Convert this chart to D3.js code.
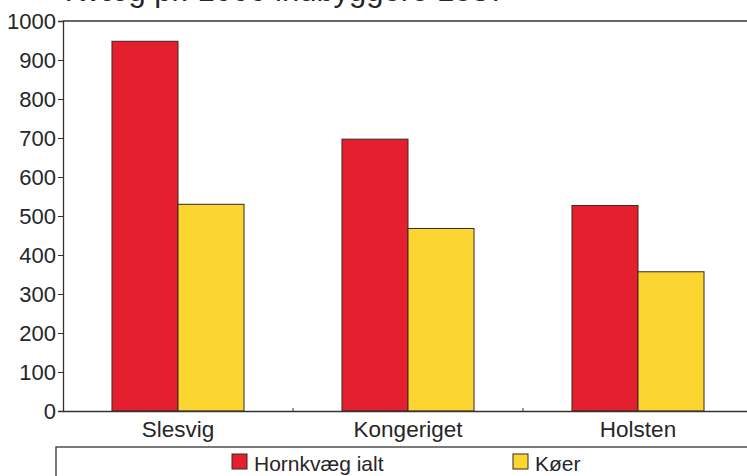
<!DOCTYPE html>
<html>
<head>
<meta charset="utf-8">
<script src="https://cdn.jsdelivr.net/npm/d3@7"></script>
<style>
  html, body { margin: 0; padding: 0; background: #fff; overflow: hidden; }
  svg { display: block; }
  text { font-family: "Liberation Sans", Arial, Helvetica, sans-serif; fill: #262626; }
</style>
</head>
<body>
<script>
const title = "Kvæg pr. 1000 indbyggere 1837";
const categories = ["Slesvig", "Kongeriget", "Holsten"];
const seriesNames = ["Hornkvæg ialt", "Køer"];
const hornkvaeg = [948, 697, 527];
const koer = [530, 468, 357];
const yTicks = [0, 100, 200, 300, 400, 500, 600, 700, 800, 900, 1000];
const colors = ["#e4202e", "#fcd630"];

(function () {
const W = 747, H = 476;
const svg = d3.select("body").append("svg").attr("width", W).attr("height", H);

const mLeft = 63, mRight = 753, mTop = 21, mBottom = 411;

const x = d3.scaleBand().domain(categories).range([mLeft, mRight])
  .paddingInner(0.426).paddingOuter(0.213);
const xs = d3.scaleBand().domain(seriesNames).range([0, x.bandwidth()]);
const y = d3.scaleLinear().domain([0, 1000]).range([mBottom, mTop]);

// Title (cut off at the top edge, as in the reference)
svg.append("text").attr("x", 506).attr("y", 1).attr("text-anchor", "end")
  .style("font-size", "31px").text(title);

// top frame line
svg.append("line").attr("x1", mLeft).attr("x2", mRight).attr("y1", y(1000)).attr("y2", y(1000))
  .attr("stroke", "#333").attr("stroke-width", 1.3);

// bars
const rows = categories.map((c, i) => ({ c, vals: [hornkvaeg[i], koer[i]] }));
const g = svg.append("g");
rows.forEach(r => {
  r.vals.forEach((v, j) => {
    g.append("rect")
      .attr("x", x(r.c) + xs(seriesNames[j]))
      .attr("y", y(v))
      .attr("width", xs.bandwidth())
      .attr("height", y(0) - y(v))
      .attr("fill", colors[j])
      .attr("stroke", "#3a2626").attr("stroke-width", 1);
  });
});

// Y axis
const yAxis = d3.axisLeft(y).tickValues(yTicks).tickSize(5).tickPadding(2).tickFormat(d3.format("d"));
const ya = svg.append("g").attr("transform", `translate(${mLeft},0)`).call(yAxis);
ya.select(".domain").attr("stroke", "#333").attr("stroke-width", 1.3);
ya.selectAll(".tick line").attr("stroke", "#333");
ya.selectAll(".tick text").style("font-size", "22px").attr("fill", "#262626")
  .attr("font-family", "Liberation Sans, Arial, sans-serif");

// X axis
const xa = svg.append("g").attr("transform", `translate(0,${mBottom})`)
  .call(d3.axisBottom(x).tickSize(0).tickPadding(10));
xa.select(".domain").attr("stroke", "#333").attr("stroke-width", 1.3);
xa.selectAll(".tick text").style("font-size", "22.5px").attr("fill", "#262626")
  .attr("font-family", "Liberation Sans, Arial, sans-serif");
// separator ticks between categories
categories.slice(1).forEach(c => {
  const sx = x(c) - (x.step() - x.bandwidth()) / 2;
  svg.append("line").attr("x1", sx).attr("x2", sx).attr("y1", mBottom).attr("y2", mBottom - 3)
    .attr("stroke", "#333");
});

// Legend
const leg = svg.append("g");
leg.append("rect").attr("x", 56).attr("y", 447).attr("width", 720).attr("height", 60)
  .attr("fill", "none").attr("stroke", "#333").attr("stroke-width", 1.3);
const legX = [232, 513];
seriesNames.forEach((s, j) => {
  leg.append("rect").attr("x", legX[j]).attr("y", 454).attr("width", 15).attr("height", 15)
    .attr("fill", colors[j]).attr("stroke", "#3a2626");
  leg.append("text").attr("x", legX[j] + 22).attr("y", 471).style("font-size", "21px").text(s);
});
})();
</script>
</body>
</html>
